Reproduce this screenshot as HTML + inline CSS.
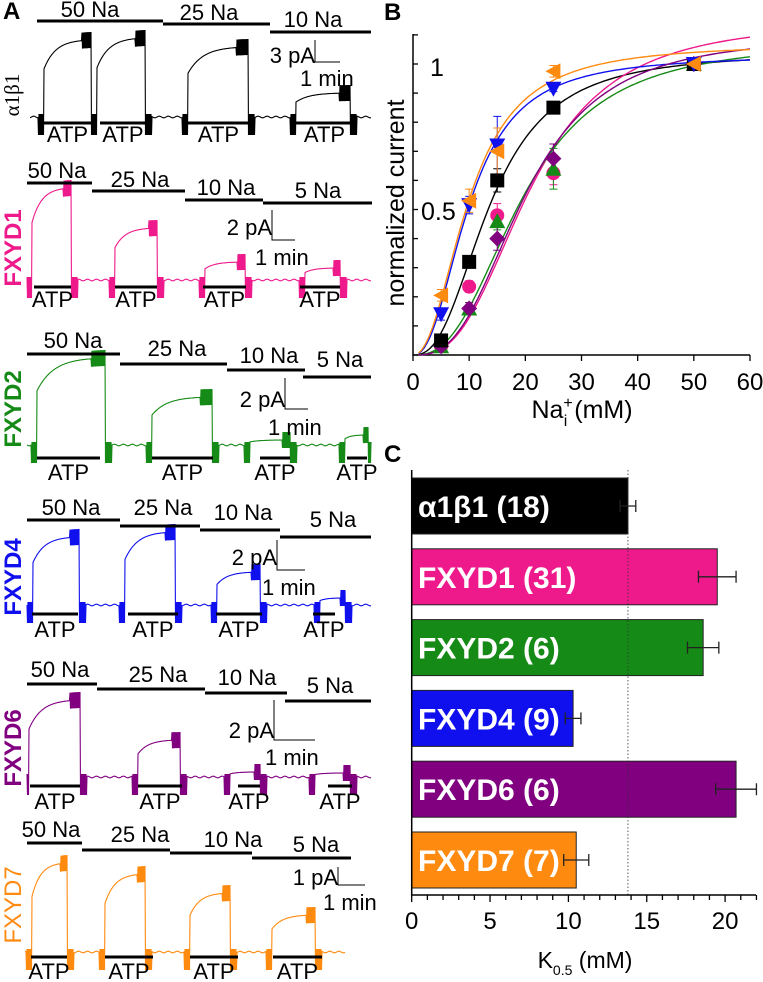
<!DOCTYPE html>
<html><head><meta charset="utf-8">
<style>
html,body{margin:0;padding:0;background:#fff;}
svg{display:block;font-family:"Liberation Sans",Arial,sans-serif;}
</style></head>
<body>
<svg id="fig" width="763" height="982" viewBox="0 0 763 982" xmlns="http://www.w3.org/2000/svg">
<text x="3" y="19" font-size="24" font-weight="bold">A</text>
<text x="384" y="20" font-size="24" font-weight="bold">B</text>
<text x="384" y="462" font-size="24" font-weight="bold">C</text>
<g id="panelA"></g>
<g id="panelB"></g>
<g id="panelC"></g>
</svg>
<script>
const NS="http://www.w3.org/2000/svg";
function mk(tag,attrs,parent,text){const e=document.createElementNS(NS,tag);for(const k in attrs)e.setAttribute(k,attrs[k]);if(text!==undefined)e.textContent=text;parent.appendChild(e);return e;}

/* ---------- Panel B data ---------- */
const naConc=[5,10,15,25,50];
const seriesNames=["a1b1","FXYD1","FXYD2","FXYD4","FXYD6","FXYD7"];
const seriesColors=["#000000","#ee1a8c","#168a16","#1010ee","#800080","#ff8a10"];
const seriesMarkers=["square","circle","up","down","diamond","left"];
const valsA1B1=[0.05,0.32,0.60,0.85,1.0];
const valsFXYD1=[0.03,0.235,0.48,0.625,1.0];
const valsFXYD2=[0.03,0.16,0.46,0.64,1.0];
const valsFXYD4=[0.14,0.515,0.72,0.915,1.0];
const valsFXYD6=[0.03,0.16,0.40,0.675,1.0];
const valsFXYD7=[0.205,0.53,0.70,0.975,1.0];
const errA1B1=[0.01,0.02,0.04,0.01,0.01];
const errFXYD1=[0.01,0.02,0.04,0.04,0.01];
const errFXYD2=[0.01,0.02,0.03,0.07,0.01];
const errFXYD4=[0.02,0.03,0.10,0.01,0.01];
const errFXYD6=[0.01,0.02,0.04,0.05,0.01];
const errFXYD7=[0.02,0.04,0.08,0.02,0.01];
const fitK=[13.8,21,19.5,10,20,10];
const fitN=[2.5,2.8,2.6,2.3,2.8,2.2];
const fitImax=[1.04,1.15,1.08,1.03,1.1,1.07];
const xTicksB=[0,10,20,30,40,50,60];

/* ---------- Panel C data ---------- */
const barLabels=["α1β1 (18)","FXYD1 (31)","FXYD2 (6)","FXYD4 (9)","FXYD6 (6)","FXYD7 (7)"];
const barValues=[13.8,19.5,18.6,10.3,20.7,10.5];
const barErrors=[0.5,1.2,1.0,0.5,1.3,0.8];
const xTicksC=[0,5,10,15,20];
const refLine=13.8;

/* ---------- Panel B ---------- */
(function(){
const g=document.getElementById('panelB');
const X0=413,X1=750,Y0=355,PY=291;
const xs=v=>X0+v*(X1-X0)/60, ys=v=>Y0-v*PY;
const ax=mk('path',{d:`M${X0},34 V${Y0} H${X1}`,fill:'none',stroke:'#000','stroke-width':1.5},g);

for(let i=0;i<=11;i++){const t=mk('line',{x1:X0,x2:X0+5,y1:ys(i/10),y2:ys(i/10),stroke:'#000','stroke-width':1.3},g);
}
let t1=mk('text',{x:430,y:76,'font-size':25},g,'1');
let t2=mk('text',{x:421,y:220,'font-size':25},g,'0.5');
xTicksB.forEach(v=>{const l=mk('line',{x1:xs(v),x2:xs(v),y1:Y0,y2:Y0+6,stroke:'#000','stroke-width':1.3},g);

const tx=mk('text',{x:xs(v),y:390,'font-size':24,'text-anchor':'middle'},g,String(v));
});
const xl=mk('text',{x:582,y:418,'font-size':25,'text-anchor':'middle'},g);

xl.innerHTML='Na<tspan dy="-10" font-size="16">+</tspan><tspan dy="18" dx="-9" font-size="16">i</tspan><tspan dy="-8"> (mM)</tspan>';
const yl=mk('text',{x:0,y:0,'font-size':25,'text-anchor':'middle',transform:'translate(404,203) rotate(-90)'},g,'normalized current');

const allVals=[valsA1B1,valsFXYD1,valsFXYD2,valsFXYD4,valsFXYD6,valsFXYD7];
const allErr=[errA1B1,errFXYD1,errFXYD2,errFXYD4,errFXYD6,errFXYD7];
seriesNames.forEach((n,si)=>{let d='';for(let c=1;c<=60;c+=0.5){const r=Math.pow(c/fitK[si],fitN[si]);const v=fitImax[si]*r/(1+r);d+=(d?'L':'M')+xs(c).toFixed(1)+','+ys(v).toFixed(1);}
const p=mk('path',{d,fill:'none',stroke:seriesColors[si],'stroke-width':1.4},g);
});
seriesNames.forEach((n,si)=>{naConc.forEach((c,i)=>{const v=allVals[si][i],e=allErr[si][i],x=xs(c);
const eb=mk('path',{d:`M${x},${ys(v-e)}V${ys(v+e)}M${x-4},${ys(v+e)}H${x+4}M${x-4},${ys(v-e)}H${x+4}`,stroke:seriesColors[si],'stroke-width':1,fill:'none'},g);
});});
const order=[1,2,4,0,3,5];
order.forEach(si=>{const n=seriesNames[si];naConc.forEach((c,i)=>{const x=xs(c),y=ys(allVals[si][i]),s=7,col=seriesColors[si];let m;
switch(seriesMarkers[si]){
case 'square':m=mk('rect',{x:x-s,y:y-s,width:2*s,height:2*s,fill:col},g);break;
case 'circle':m=mk('circle',{cx:x,cy:y,r:s,fill:col},g);break;
case 'up':m=mk('polygon',{points:`${x},${y-s-1} ${x+s+1},${y+s} ${x-s-1},${y+s}`,fill:col},g);break;
case 'down':m=mk('polygon',{points:`${x},${y+s+1} ${x+s+1},${y-s} ${x-s-1},${y-s}`,fill:col},g);break;
case 'diamond':m=mk('polygon',{points:`${x},${y-s-1} ${x+s+1},${y} ${x},${y+s+1} ${x-s-1},${y}`,fill:col},g);break;
default:m=mk('polygon',{points:`${x-s-1},${y} ${x+s},${y-s-1} ${x+s},${y+s+1}`,fill:col},g);}
});});
})();

/* ---------- Panel C ---------- */
(function(){
const g=document.getElementById('panelC');
const X0=411.7,U=15.67,Y0=895;
const xs=v=>X0+v*U;
barLabels.forEach((lab,i)=>{const top=478+i*70.8,h=56,col=seriesColors[i];
const r=mk('rect',{x:X0,y:top,width:xs(barValues[i])-X0,height:h,fill:col,stroke:'#222','stroke-width':1},g);

const cy=top+h/2,e1=xs(barValues[i]-barErrors[i]),e2=xs(barValues[i]+barErrors[i]);
const eb=mk('path',{d:`M${e1},${cy}H${e2}M${e1},${cy-6}V${cy+6}M${e2},${cy-6}V${cy+6}`,stroke:'#222','stroke-width':1.3,fill:'none'},g);

const t=mk('text',{x:418,y:cy+11,'font-size':30,'font-weight':'bold',fill:'#fff'},g,lab);
});
const dl=mk('line',{x1:xs(refLine),x2:xs(refLine),y1:470,y2:Y0,stroke:'#333','stroke-width':0.8,'stroke-dasharray':'1.5,2'},g);

const ax=mk('path',{d:`M${X0},470 V${Y0} H756`,fill:'none',stroke:'#000','stroke-width':1.5},g);

for(let v=0;v<=22;v++){const l=mk('line',{x1:xs(v),x2:xs(v),y1:Y0,y2:Y0+(v%5===0?7:5),stroke:'#000','stroke-width':1.3},g);
}
xTicksC.forEach(v=>{const t=mk('text',{x:xs(v),y:929,'font-size':24,'text-anchor':'middle'},g,String(v));
});
const xl=mk('text',{x:585,y:968,'font-size':23,'text-anchor':'middle'},g);

xl.innerHTML='K<tspan dy="7" font-size="14">0.5</tspan><tspan dy="-7"> (mM)</tspan>';
})();

/* ---------- Panel A ---------- */
const tracePanels=["a1b1","FXYD1","FXYD2","FXYD4","FXYD6","FXYD7"];
const traceLabels=["α1β1","FXYD1","FXYD2","FXYD4","FXYD6","FXYD7"];
const traceLabelY=[95,248,409,577,748,905];
const baselines=[117,280,445,605,777,952];
const traceRange=[[30,371],[27,371],[27,371],[27,371],[27,371],[25,345]];
const pulseStarts=[[44,97,188,296],[32,115,205,305],[37,152,250,345],[33,125,217,320],[29,138,230,315],[32,105,190,272]];
const pulseEnds=[[91,145,248,350],[71,157,245,340],[105,212,290,368],[79,175,260,345],[80,180,260,350],[67,145,230,315]];
const pulseTops=[[40,38,47,93],[188,228,262,268],[358,397,440,435],[537,532,572,598],[700,740,772,773],[863,874,893,915]];
const naLabels=[["50 Na","25 Na","10 Na"],["50 Na","25 Na","10 Na","5 Na"],["50 Na","25 Na","10 Na","5 Na"],["50 Na","25 Na","10 Na","5 Na"],["50 Na","25 Na","10 Na","5 Na"],["50 Na","25 Na","10 Na","5 Na"]];
const naBars=[[[37,163,21],[163,270,24],[270,371,32]],[[27,92,183],[92,185,191],[185,263,200],[263,372,203]],[[27,120,354],[120,227,364],[227,305,370],[303,371,377]],[[27,120,520],[120,200,526],[200,280,530],[280,371,537]],[[27,97,684],[97,205,689],[205,287,693],[285,371,701]],[[27,82,843],[82,170,850],[170,252,853],[252,351,858]]];
const naTextX=[[90,209,313],[57,140,226,318],[73,177,269,340],[71,163,243,333],[60,158,247,330],[51,140,233,316]];
const naTextY=[[17,20,27],[178,187,195,198],[348,356,363,367],[515,515,520,527],[677,682,685,693],[837,842,847,852]];
const atpBars=[[[44,91],[100,146],[187,250],[296,353]],[[34,71],[115,157],[203,246],[300,340]],[[37,100],[152,213],[260,290],[347,367]],[[32,78],[128,178],[216,262],[313,335]],[[30,80],[138,182],[238,260],[328,352]],[[31,67],[105,153],[190,238],[273,322]]];
const atpY=[123,287,458,614,786,957];
const atpTextY=[142,307,480,637,809,979];
const scaleLabels=["3 pA","2 pA","2 pA","2 pA","2 pA","1 pA"];
const scaleBars=[[315,40,62,340],[272,210,240,295],[285,378,409,308],[277,540,570,305],[274,700,740,315],[338,867,885,365]];
const scaleTextY=[63,235,407,565,738,885];
const minTextPos=[[300,86],[255,265],[268,435],[262,595],[265,765],[323,910]];

(function(){
const g=document.getElementById('panelA');
tracePanels.forEach((name,pi)=>{
const col=seriesColors[pi],base=baselines[pi],[x0,x1]=traceRange[pi];
const sub=mk('g',{},g);
let d='',k=0;
for(let x=x0;x<=x1;x+=0.5,k++){
  let y=base+Math.sin(x*0.7)*0.8;
  const alt=(k%2?1:-1);
  pulseStarts[pi].forEach((s,j)=>{const e=pulseEnds[pi][j],top=pulseTops[pi][j];
    if(x>=s&&x<=e){const t=(x-s)/(e-s);const amp=base-top;y=base-amp*(0.62+0.38*(1-Math.exp(-t*4)))/(0.62+0.38*(1-Math.exp(-4)));
      if(t>0.8)y+=alt*8;}
    if((x>s-6&&x<s)||(x>e&&x<e+7))y=base+(alt>0?18:-3);});
  d+=(d?'L':'M')+x.toFixed(1)+','+y.toFixed(1);}
const tp=mk('path',{d,fill:'none',stroke:col,'stroke-width':1.1},sub);

const lbl=mk('text',{x:0,y:0,'font-size':name==="a1b1"?21:24,'font-weight':(name==="a1b1"||name==="FXYD7")?'normal':'bold','font-family':name==="a1b1"?'"Liberation Serif",serif':'"Liberation Sans",sans-serif',fill:name==="a1b1"?'#000':col,'text-anchor':'middle',transform:`translate(${name==="a1b1"?19:21},${traceLabelY[pi]}) rotate(-90)`},sub,traceLabels[pi]);

naBars[pi].forEach((b,j)=>{const l=mk('line',{x1:b[0],x2:b[1],y1:b[2],y2:b[2],stroke:'#000','stroke-width':3},sub);

const t=mk('text',{x:naTextX[pi][j],y:naTextY[pi][j],'font-size':22,'text-anchor':'middle'},sub,naLabels[pi][j]);
});
atpBars[pi].forEach(b=>{const l=mk('line',{x1:b[0],x2:b[1],y1:atpY[pi],y2:atpY[pi],stroke:'#000','stroke-width':3},sub);

const t=mk('text',{x:(b[0]+b[1])/2,y:atpTextY[pi],'font-size':22,'text-anchor':'middle'},sub,'ATP');
});
const sb=scaleBars[pi];
const sp=mk('path',{d:`M${sb[0]},${sb[1]}V${sb[2]}H${sb[3]}`,fill:'none',stroke:'#000','stroke-width':1},sub);

const st=mk('text',{x:sb[0],y:scaleTextY[pi],'font-size':22,'text-anchor':'end'},sub,scaleLabels[pi]);

const mt=mk('text',{x:minTextPos[pi][0],y:minTextPos[pi][1],'font-size':22},sub,'1 min');

});
})();
</script>
</body></html>
